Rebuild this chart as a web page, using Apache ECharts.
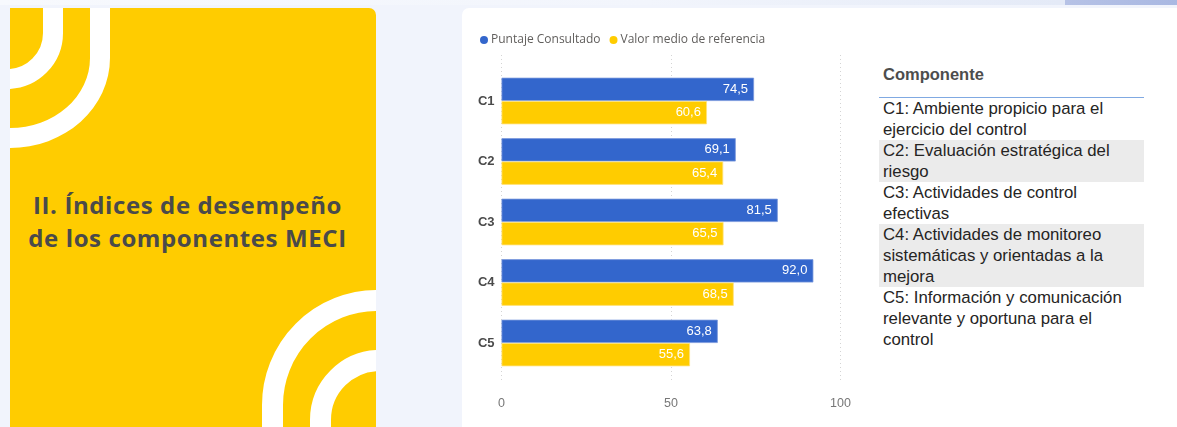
<!DOCTYPE html>
<html>
<head>
<meta charset="utf-8">
<script src="https://cdn.jsdelivr.net/npm/echarts@6/dist/echarts.min.js"></script>
<style>
  body { margin: 0; width: 1177px; height: 427px; overflow: hidden; background: #f1f4fc; position: relative; }
  #strip { position: absolute; left: 0; top: 0; width: 1177px; height: 5px;
    background: linear-gradient(90deg, #f7f9fd 0%, #f2f5fc 55%, #e4eaf7 90%); }
  #stripR { position: absolute; left: 1065px; top: 0; width: 112px; height: 5px;
    background: linear-gradient(90deg, #b6c2e6, #a9b8e2); }
  #panel { position: absolute; left: 10px; top: 8px; width: 366px; height: 440px;
    background: #ffcc00; border-top-right-radius: 7px; overflow: hidden; }
  .arc { position: absolute; box-sizing: border-box; border: 20px solid #fff; }
  #title { position: absolute; left: 0; top: 180px; width: 355px; text-align: center;
    font-family: "Open Sans", "Noto Sans", sans-serif; font-weight: 700; font-size: 24px;
    letter-spacing: 0.6px; line-height: 33px; color: #4a4a4a; white-space: nowrap; }
  #card { position: absolute; left: 462px; top: 8px; width: 740px; height: 440px;
    background: #fff; border-radius: 7px; }
  #chart { position: absolute; left: 462px; top: 8px; width: 400px; height: 419px; }
  #tbl { position: absolute; left: 879px; top: 62px; width: 265px;
    font-family: "Liberation Sans", Arial, sans-serif; color: #252423; }
  #tbl .hd { height: 35px; border-bottom: 1px solid #80a9e2; font-weight: 700;
    font-size: 16.5px; color: #4d4d4d; padding-left: 4px; line-height: 24px; }
  #tbl .row { padding: 0 4px; font-size: 16.8px; line-height: 21px; white-space: nowrap; }
  #tbl .alt { background: #ebebeb; }
</style>
</head>
<body>
<div id="strip"></div>
<div id="stripR"></div>
<div id="panel">
  <div class="arc" style="left:-200px;top:-200px;width:253px;height:281px;border-bottom-right-radius:56px;"></div>
  <div class="arc" style="left:-200px;top:-200px;width:300px;height:340px;border-bottom-right-radius:100px 90px;"></div>
  <div class="arc" style="left:252px;top:282px;width:400px;height:400px;border-width:21px;border-top-left-radius:115px;"></div>
  <div class="arc" style="left:300px;top:342px;width:400px;height:400px;border-width:21px;border-top-left-radius:70px;"></div>
  <div id="title">II. Índices de desempeño<br>de los componentes MECI</div>
</div>
<div id="card"></div>
<div id="chart"></div>
<div id="tbl"></div>
<script>
var categories = ['C1', 'C2', 'C3', 'C4', 'C5'];
var puntaje = [74.5, 69.1, 81.5, 92.0, 63.8];
var referencia = [60.6, 65.4, 65.5, 68.5, 55.6];
var seriesNames = ['Puntaje Consultado', 'Valor medio de referencia'];
var tableHeader = 'Componente';
var componentLines = [
  ['C1: Ambiente propicio para el', 'ejercicio del control'],
  ['C2: Evaluación estratégica del', 'riesgo'],
  ['C3: Actividades de control', 'efectivas'],
  ['C4: Actividades de monitoreo', 'sistemáticas y orientadas a la', 'mejora'],
  ['C5: Información y comunicación', 'relevante y oportuna para el', 'control']
];

// tabla de componentes
var html = '<div class="hd">' + tableHeader + '</div>';
for (var i = 0; i < componentLines.length; i++) {
  html += '<div class="row' + (i % 2 === 1 ? ' alt' : '') + '">' + componentLines[i].join('<br>') + '</div>';
}
document.getElementById('tbl').innerHTML = html;

var fmt = function (p) {
  return p.value.toFixed(1).replace('.', ',');
};

var myChart = echarts.init(document.getElementById('chart'));
var option = {
  animation: false,
  textStyle: { fontFamily: '"Liberation Sans", Arial, sans-serif' },
  legend: {
    left: 13,
    top: 21,
    icon: 'circle',
    itemWidth: 8,
    itemHeight: 8,
    itemGap: 9,
    itemStyle: { borderWidth: 0 },
    textStyle: { color: '#605e5c', fontSize: 12, fontFamily: '"Open Sans", sans-serif', padding: [0, 0, 0, -2] },
    data: seriesNames
  },
  grid: [
    { left: 39.5, width: 339, top: 62.75, height: 302.5 },
    { left: 39.5, width: 339, top: 47, height: 328 }
  ],
  xAxis: [
    {
      gridIndex: 0, type: 'value', min: 0, max: 100, interval: 50,
      axisLine: { show: false }, axisTick: { show: false },
      axisLabel: { show: false }, splitLine: { show: false }
    },
    {
      gridIndex: 1, type: 'value', min: 0, max: 100, interval: 50,
      axisLine: { show: false }, axisTick: { show: false },
      axisLabel: { color: '#777', fontSize: 12.5, margin: 14 },
      splitLine: { lineStyle: { color: '#d4d4d4', type: [1, 3] } }
    }
  ],
  yAxis: [
    {
      gridIndex: 0, type: 'category', data: categories, inverse: true,
      axisLine: { show: false }, axisTick: { show: false },
      axisLabel: { color: '#4a4a4a', fontWeight: 'bold', fontSize: 13, margin: 7, padding: [4, 0, 0, 0] }
    },
    {
      gridIndex: 1, type: 'value', min: 0, max: 1, show: false
    }
  ],
  series: [
    {
      name: seriesNames[0], type: 'bar', xAxisIndex: 0, yAxisIndex: 0,
      data: puntaje, barWidth: 23.3, barGap: '0%',
      itemStyle: { color: '#3366cc', borderColor: '#7a98dc', borderWidth: 0.8 },
      label: { show: true, position: 'insideRight', distance: 6, color: '#fff', fontSize: 13, formatter: fmt }
    },
    {
      name: seriesNames[1], type: 'bar', xAxisIndex: 0, yAxisIndex: 0,
      data: referencia, barWidth: 23.3, barGap: '0%',
      itemStyle: { color: '#ffcc00', borderColor: '#ffe27a', borderWidth: 0.8 },
      label: { show: true, position: 'insideRight', distance: 6, color: '#fff', fontSize: 13, formatter: fmt }
    }
  ]
};
myChart.setOption(option);
</script>
</body>
</html>
